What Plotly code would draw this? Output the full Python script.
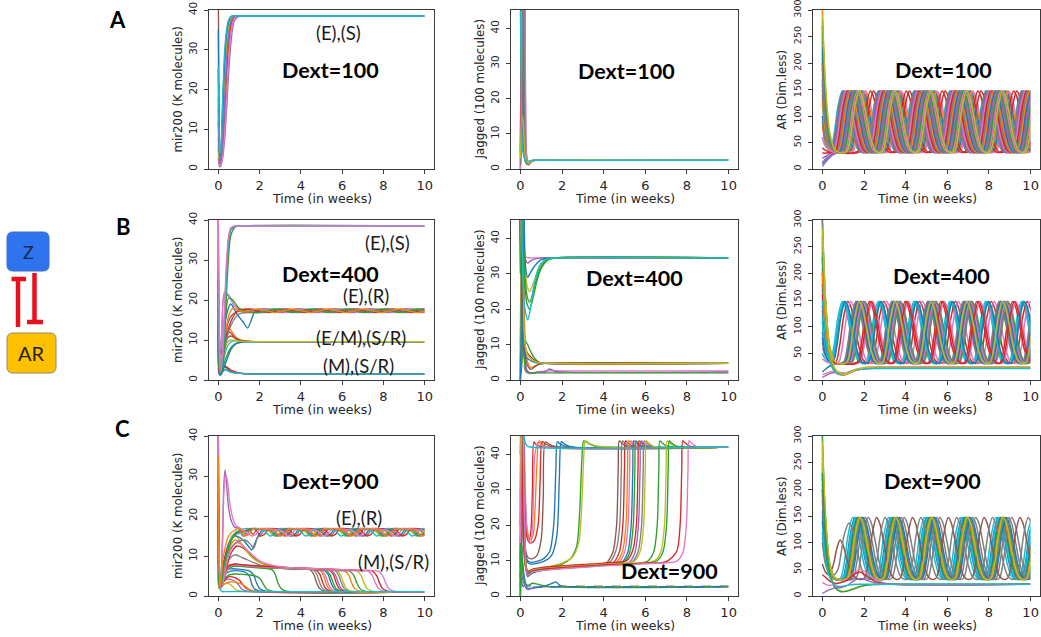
import plotly.graph_objects as go

W, H = 1041, 637
TAB = ['#1f77b4', '#ff7f0e', '#2ca02c', '#d62728', '#9467bd',
       '#8c564b', '#e377c2', '#7f7f7f', '#bcbd22', '#17becf']

# ======================= DATA =======================
X_TICKS = [0, 2, 4, 6, 8, 10]
Y_TICKS_MIR = [0, 10, 20, 30, 40]
Y_TICKS_JAG = [0, 10, 20, 30, 40]
Y_TICKS_AR = [0, 50, 100, 150, 200, 250, 300]
X_TITLE = 'Time (in weeks)'
Y_TITLES = ['mir200 (K molecules)', 'Jagged (100 molecules)', 'AR (Dim.less)']
DEXT = ['Dext=100', 'Dext=400', 'Dext=900']

# ---- A1: mir200, Dext=100 ----
A1_T = [0, 0.04, 0.08, 0.12, 0.2, 0.3, 0.4, 0.5, 0.6, 0.7, 0.8, 1.0, 1.3, 10]
A1_Y = [
    [25, 6, 2, 3, 10, 24, 33, 36.5, 38, 38.4, 38.5, 38.5, 38.5, 38.5],
    [5, 2, 1, 1.2, 4, 12, 22, 30, 35, 37.5, 38.2, 38.5, 38.5, 38.5],
    [18, 6, 3, 4, 14, 27, 34, 37, 38.2, 38.5, 38.5, 38.5, 38.5, 38.5],
    [12, 4, 1, 1.5, 5, 14, 25, 32, 36, 37.8, 38.3, 38.5, 38.5, 38.5],
    [3, 1, 0.5, 0.8, 2.5, 7, 15, 24, 31, 35.5, 37.5, 38.4, 38.5, 38.5],
    [48, 8, 1.5, 2, 8, 20, 31, 36, 38, 38.4, 38.5, 38.5, 38.5, 38.5],
    [2, 1.5, 0.8, 1, 3, 9, 18, 27, 33.5, 36.8, 38, 38.5, 38.5, 38.5],
    [8, 3, 1.5, 2, 7, 17, 28, 34, 37, 38, 38.4, 38.5, 38.5, 38.5],
    [6, 2.5, 2.5, 3.5, 9, 21, 31, 35.5, 37.6, 38.3, 38.5, 38.5, 38.5, 38.5],
    [35, 9, 3, 4, 12, 26, 34, 37, 38.3, 38.5, 38.5, 38.5, 38.5, 38.5],
    [15, 5, 2, 2.5, 6, 16, 27, 33.5, 36.8, 38, 38.4, 38.5, 38.5, 38.5],
    [26, 10, 4, 5, 16, 29, 35, 37.5, 38.3, 38.5, 38.5, 38.5, 38.5, 38.5],
]
A1_C = [0, 1, 2, 3, 4, 5, 6, 7, 8, 0, 4, 9]

# ---- A2: Jagged, Dext=100 ----
A2_T = [0, 0.03, 0.07, 0.1, 0.15, 0.2, 0.25, 0.3, 0.4, 0.5, 0.6, 0.8, 10]
A2_Y = [
    [60, 50, 30, 11, 6, 4, 3, 2, 1.5, 2, 2.4, 2.5, 2.5],
    [0, 20, 60, 60, 40, 8, 3, 1.8, 1.5, 2.2, 2.5, 2.5, 2.5],
    [2, 40, 60, 50, 20, 5, 2, 1.5, 1.3, 2, 2.4, 2.5, 2.5],
    [5, 30, 60, 60, 60, 30, 6, 2, 1.2, 1.8, 2.4, 2.5, 2.5],
    [0, 3, 8, 20, 50, 60, 20, 4, 1.5, 2, 2.4, 2.5, 2.5],
    [60, 60, 40, 15, 5, 3, 2, 1.5, 1.4, 2, 2.4, 2.5, 2.5],
    [0, 10, 50, 60, 60, 50, 15, 3, 1.5, 2, 2.4, 2.5, 2.5],
    [1, 5, 15, 40, 60, 25, 5, 2, 1.5, 2, 2.4, 2.5, 2.5],
    [3, 8, 14, 15, 12, 6, 3, 2, 1.5, 2, 2.4, 2.5, 2.5],
    [45, 30, 12, 6, 4, 3, 2.5, 2.2, 2.2, 2.4, 2.5, 2.5, 2.5],
]
A2_C = [0, 1, 2, 3, 4, 5, 6, 7, 8, 9]

# ---- AR oscillation: one cycle (offset from a peak) ----
AR_CYC_DT = [0, 0.15, 0.35, 0.55, 0.75, 0.95, 1.15, 1.32, 1.52, 1.72]
AR_CYC_V = [147, 137, 100, 60, 37, 31, 34, 62, 118, 147]

# ---- A3: AR, Dext=100 ----
A3_TR_T = [
    [0, 0.12, 0.3], [0, 0.15, 0.35], [0, 0.15, 0.35], [0, 0.15, 0.35, 0.5],
    [0, 0.2, 0.4], [0, 0.15, 0.35, 0.55], [0, 0.15, 0.35, 0.6], [0, 0.2, 0.45, 0.65],
    [0, 0.15, 0.35, 0.6, 0.75], [0, 0.15, 0.35, 0.6, 0.8], [0, 0.15, 0.35, 0.6, 0.85],
    [0, 0.15, 0.35, 0.6, 0.9], [0, 0.15, 0.35, 0.6, 1.0], [0, 0.15, 0.35, 0.6, 1.05],
    [0, 0.2, 0.45, 0.7, 1.1], [0, 0.15, 0.35, 0.6, 1.15], [0, 0.15, 0.35, 0.6, 1.2],
    [0, 0.15, 0.35, 0.6, 1.0, 1.45], [0, 0.15, 0.35, 0.6, 1.0, 1.6],
    [0, 0.12, 0.3], [0, 0.15, 0.35], [0, 0.15, 0.35, 0.45], [0, 0.2, 0.4],
    [0, 0.15, 0.35, 0.5], [0, 0.15, 0.35, 0.55], [0, 0.15, 0.35, 0.6],
    [0, 0.2, 0.45, 0.7], [0, 0.15, 0.35, 0.6, 0.75], [0, 0.15, 0.35, 0.6, 0.8],
    [0, 0.15, 0.35, 0.6, 0.85], [0, 0.15, 0.35, 0.6, 0.95],
    [0, 0.15, 0.35, 0.6, 0.95],
]
A3_TR_V = [
    [60, 45, 36], [140, 70, 38], [220, 95, 42], [300, 150, 60, 36],
    [20, 25, 30], [250, 120, 50, 33], [180, 90, 45, 32], [5, 15, 25, 30],
    [280, 140, 60, 35, 31], [100, 60, 40, 32, 30], [200, 100, 48, 33, 30],
    [160, 85, 45, 32, 30], [120, 70, 40, 32, 30], [240, 115, 52, 33, 30],
    [10, 20, 27, 30, 30], [80, 50, 36, 31, 30], [260, 130, 55, 34, 30],
    [190, 100, 48, 33, 30, 30], [40, 35, 32, 30, 30, 30],
    [90, 55, 37], [170, 80, 40], [270, 130, 55, 40], [30, 30, 31],
    [210, 100, 46, 34], [130, 70, 40, 32], [230, 110, 50, 33],
    [12, 20, 27, 30], [150, 80, 42, 32, 30], [270, 135, 58, 34, 30],
    [60, 45, 35, 31, 30], [200, 100, 48, 33, 30],
    [290, 160, 70, 36, 30],
]
A3_PEAKS = [
    [0.95, 2.67, 4.39, 6.11, 7.83, 9.55], [1.02, 2.74, 4.46, 6.18, 7.90, 9.62],
    [1.10, 2.82, 4.54, 6.26, 7.98, 9.70], [1.17, 2.89, 4.61, 6.33, 8.05, 9.77],
    [1.24, 2.96, 4.68, 6.40, 8.12, 9.84], [1.31, 3.03, 4.75, 6.47, 8.19, 9.91],
    [1.38, 3.10, 4.82, 6.54, 8.26, 9.98], [1.45, 3.17, 4.89, 6.61, 8.33],
    [1.52, 3.24, 4.96, 6.68, 8.40], [1.58, 3.30, 5.02, 6.74, 8.46],
    [1.64, 3.36, 5.08, 6.80, 8.52], [1.70, 3.42, 5.14, 6.86, 8.58],
    [1.82, 3.54, 5.26, 6.98, 8.70], [1.88, 3.60, 5.32, 7.04, 8.76],
    [1.94, 3.66, 5.38, 7.10, 8.82], [2.00, 3.72, 5.44, 7.16, 8.88],
    [2.06, 3.78, 5.50, 7.22, 8.94], [2.30, 4.02, 5.74, 7.46, 9.18],
    [2.45, 4.17, 5.89, 7.61, 9.33],
    [0.98, 2.70, 4.42, 6.14, 7.86, 9.58], [1.06, 2.78, 4.50, 6.22, 7.94, 9.66],
    [1.13, 2.85, 4.57, 6.29, 8.01, 9.73], [1.20, 2.92, 4.64, 6.36, 8.08, 9.80],
    [1.28, 3.00, 4.72, 6.44, 8.16, 9.88], [1.35, 3.07, 4.79, 6.51, 8.23, 9.95],
    [1.42, 3.14, 4.86, 6.58, 8.30], [1.49, 3.21, 4.93, 6.65, 8.37],
    [1.55, 3.27, 4.99, 6.71, 8.43], [1.61, 3.33, 5.05, 6.77, 8.49],
    [1.67, 3.39, 5.11, 6.83, 8.55], [1.79, 3.51, 5.23, 6.95, 8.67],
    [1.76, 3.48, 5.20, 6.92, 8.64],
]
A3_C = [9, 0, 2, 1, 4, 3, 6, 4, 7, 0, 5, 2, 9, 7, 0, 1, 6, 3, 3,
        7, 4, 6, 3, 7, 1, 0, 4, 7, 2, 6, 7, 8]

# ---- B1: mir200, Dext=400 ----
B1_S_T = [0, 0.05, 0.1, 0.2, 0.3, 0.4, 0.5, 0.6, 0.8, 1.0, 10]
B1_S_Y = [
    [25, 6, 1.5, 4, 14, 26, 34, 37.5, 38.4, 38.5, 38.5],
    [15, 4, 1.5, 3, 11, 22, 31, 36, 38.2, 38.5, 38.5],
    [20, 5, 2, 5, 16, 28, 35, 37.6, 38.4, 38.5, 38.5],
    [30, 8, 2, 5, 15, 27, 35, 37.8, 38.5, 38.5, 38.5],
    [40, 10, 2, 6, 18, 30, 36, 38, 38.5, 38.5, 38.5],
]
B1_S_C = [0, 2, 4, 9, 6]

B1_EM_T = [0, 0.05, 0.1, 0.2, 0.3, 0.45, 0.6, 0.8, 1.0, 1.3, 1.8, 10]
B1_EM_Y = [
    [35, 8, 2, 6, 11, 13, 12.5, 11, 10.2, 9.8, 9.6, 9.6],
    [20, 5, 1.5, 5, 9, 12, 11.8, 10.5, 9.9, 9.7, 9.6, 9.6],
    [8, 2, 1.5, 2.5, 4.5, 6.5, 8, 9, 9.4, 9.55, 9.6, 9.6],
    [5, 1.5, 1.2, 2, 3.5, 5.5, 7.5, 8.8, 9.3, 9.5, 9.6, 9.6],
    [15, 4, 2, 5, 8, 10.5, 11, 10.5, 10, 9.7, 9.6, 9.6],
    [10, 3, 1.5, 3, 6, 8.5, 9.5, 9.8, 9.7, 9.6, 9.6, 9.6],
    [12, 3, 2, 4, 7, 9.5, 10, 9.9, 9.7, 9.6, 9.6, 9.6],
]
B1_EM_C = [1, 3, 2, 0, 5, 9, 8]

B1_M_T = [0, 0.04, 0.1, 0.2, 0.3, 0.4, 0.6, 0.9, 1.3, 2.0, 10]
B1_M_Y = [
    [40, 10, 3, 3.4, 3.6, 3.2, 2.3, 1.8, 1.6, 1.5, 1.5],
    [8, 2, 1.5, 2.5, 3.3, 3, 2.2, 1.8, 1.6, 1.5, 1.5],
    [3, 1.5, 1.2, 2, 2.6, 2.6, 2, 1.7, 1.55, 1.5, 1.5],
    [14, 3, 1.5, 2.8, 3.4, 3.3, 2.5, 1.9, 1.6, 1.5, 1.5],
    [25, 6, 2, 2.2, 2.5, 2.4, 1.9, 1.7, 1.55, 1.5, 1.5],
]
B1_M_C = [7, 2, 4, 3, 9]

# (E),(R) small oscillation cycle, Dext=400
ER4_DT = [0, 0.43, 0.86, 1.29, 1.72]
ER4_V = [17.75, 17.3, 16.85, 17.3, 17.75]
B1_ER_TR_T = [
    [0, 0.05, 0.15, 0.35, 0.6, 0.9, 1.2, 1.42, 1.6, 1.8],
    [0, 0.05, 0.15, 0.3, 0.5, 0.8, 1.1],
    [0, 0.05, 0.2, 0.4, 0.6, 0.85],
    [0, 0.05, 0.15, 0.3, 0.5, 0.75, 1.0],
    [0, 0.05, 0.2, 0.4, 0.6, 0.8],
    [0, 0.05, 0.15, 0.35, 0.6, 1.0],
    [0, 0.05, 0.12, 0.3, 0.5, 0.7, 1.0, 1.3],
    [0, 0.05, 0.12, 0.3, 0.5, 0.7, 0.9, 1.15],
]
B1_ER_TR_V = [
    [28, 6, 4, 15, 19, 16.5, 14.5, 13, 15, 17.4],
    [40, 10, 6, 21.5, 21, 18.5, 17.4],
    [12, 2, 4, 13, 15.8, 16.9],
    [45, 12, 8, 22, 21.3, 18.8, 17.7],
    [18, 3, 5, 11, 14.5, 16.5],
    [22, 5, 3, 9, 13.5, 16.5],
    [10, 3, 2, 12, 20.5, 20, 18, 17.3],
    [35, 8, 3, 10, 16, 17.9, 17.6, 17.1],
]
B1_ER_PEAKS = [
    [2.3, 4.02, 5.74, 7.46, 9.18],
    [2.1, 3.82, 5.54, 7.26, 8.98],
    [1.6, 3.32, 5.04, 6.76, 8.48],
    [2.5, 4.22, 5.94, 7.66, 9.38],
    [1.35, 3.07, 4.79, 6.51, 8.23, 9.95],
    [2.95, 4.67, 6.39, 8.11, 9.83],
    [2.76, 4.48, 6.20, 7.92, 9.64],
    [1.9, 3.62, 5.34, 7.06, 8.78],
]
B1_ER_C = [0, 4, 5, 6, 3, 7, 2, 1]

# ---- B2: Jagged, Dext=400 ----
B2_A_T = [0, 0.03, 0.08, 0.12, 0.18, 0.25, 0.35, 0.45, 0.6, 0.8, 1.0, 1.3, 1.7, 10]
B2_A_Y = [
    [0, 20, 60, 60, 40, 34.8, 34.6, 34.5, 34.5, 34.5, 34.5, 34.5, 34.5, 34.5],
    [5, 40, 60, 50, 36, 34, 33, 33.5, 34, 34.3, 34.5, 34.5, 34.5, 34.5],
    [60, 60, 50, 40, 30, 24, 21, 20, 23, 28, 31.5, 33.8, 34.5, 34.5],
    [2, 30, 60, 55, 38, 30, 26, 25, 27, 30, 32.5, 34, 34.5, 34.5],
    [0, 10, 45, 60, 45, 32, 29, 30, 31.5, 33, 34, 34.4, 34.5, 34.5],
    [30, 60, 60, 45, 33, 27, 23, 22, 24.5, 29, 32, 34, 34.5, 34.5],
    [60, 55, 40, 30, 22, 19, 17, 19, 25, 30.5, 33, 34.2, 34.5, 34.5],
]
B2_A_C = [6, 4, 2, 8, 0, 2, 9]

B2_B_T = [0, 0.03, 0.08, 0.12, 0.18, 0.25, 0.35, 0.5, 0.7, 0.9, 1.2, 10]
B2_B_Y = [
    [60, 60, 40, 20, 12, 11, 10, 8, 6, 5, 4.7, 4.7],
    [0, 15, 50, 40, 15, 9, 7.5, 6.5, 5.5, 5, 4.7, 4.7],
    [2, 30, 60, 45, 20, 8, 5, 3.5, 4, 4.5, 4.7, 4.7],
    [0, 5, 20, 30, 12, 6, 4, 3, 3.8, 4.4, 4.7, 4.7],
    [45, 30, 15, 10, 8, 7, 6, 5.5, 5, 4.8, 4.7, 4.7],
    [10, 40, 60, 40, 14, 9, 7, 6, 5.2, 4.9, 4.7, 4.7],
]
B2_B_C = [2, 3, 1, 5, 0, 8]

B2_C_T = [0, 0.03, 0.08, 0.12, 0.18, 0.25, 0.35, 0.5, 0.8, 1.2, 1.4, 1.6, 2.0, 10]
B2_C_Y = [
    [0, 20, 60, 60, 30, 5, 2, 1.8, 2.3, 2.5, 2.6, 2.6, 2.6, 2.6],
    [3, 10, 30, 20, 8, 4, 2.5, 2, 2.2, 2.4, 3.1, 2.6, 2.3, 2.3],
    [1, 2, 5, 10, 6, 3, 2.2, 2, 2, 2, 2, 2, 2, 2],
    [60, 50, 20, 8, 4, 2.5, 2, 2, 2.1, 2.1, 2.1, 2.1, 2.1, 2.1],
]
B2_C_C = [6, 4, 2, 7]
B2_C_DASH = ['solid', 'solid', 'solid', 'dash']

# ---- B3: AR, Dext=400 ----
B3_TR_T = [
    [0, 0.12, 0.3], [0, 0.15, 0.32], [0, 0.15, 0.35], [0, 0.15, 0.35, 0.45],
    [0, 0.15, 0.35, 0.55], [0, 0.15, 0.35, 0.6, 0.8], [0, 0.15, 0.35, 0.6, 0.85],
    [0, 0.15, 0.35, 0.6, 0.9], [0, 0.2, 0.45, 0.7, 0.95], [0, 0.15, 0.35, 0.6, 1.0],
    [0, 0.15, 0.35, 0.6, 1.05], [0, 0.15, 0.35, 0.6, 1.1],
    [0, 0.15, 0.35, 0.6, 1.15], [0, 0.15, 0.35, 0.6, 1.0, 1.4],
    [0, 0.15, 0.35, 0.6, 1.0, 1.6],
    [0, 0.15, 0.35, 0.6, 0.82], [0, 0.15, 0.35, 0.6, 0.88], [0, 0.15, 0.35, 0.6, 0.92],
    [0, 0.15, 0.35, 0.6, 0.98], [0, 0.15, 0.35, 0.6, 1.03], [0, 0.15, 0.35, 0.6, 1.08],
    [0, 0.15, 0.35, 0.6, 1.12], [0, 0.12, 0.3], [0, 0.12, 0.3],
    [0, 0.15, 0.35, 0.6, 1.0, 1.5],
    [0, 0.15, 0.35, 0.6, 0.95],
]
B3_TR_V = [
    [50, 40, 34], [150, 70, 36], [230, 100, 42], [270, 130, 55, 38],
    [190, 95, 45, 33], [300, 150, 60, 34, 31], [110, 62, 40, 32, 30],
    [210, 105, 50, 33, 30], [15, 22, 28, 30, 30], [250, 120, 52, 33, 30],
    [170, 88, 45, 32, 30], [90, 55, 38, 31, 30],
    [130, 72, 42, 32, 30], [200, 100, 48, 33, 30, 30], [60, 45, 35, 31, 30, 30],
    [260, 130, 56, 34, 30], [140, 75, 42, 32, 30], [70, 48, 36, 31, 30],
    [230, 115, 52, 33, 30], [180, 92, 46, 32, 30], [40, 35, 32, 30, 30],
    [300, 150, 62, 34, 30], [120, 60, 38], [80, 50, 36],
    [160, 85, 45, 32, 30, 30],
    [285, 150, 65, 35, 30],
]
B3_PEAKS = [
    [0.95, 2.67, 4.39, 6.11, 7.83, 9.55], [1.00, 2.72, 4.44, 6.16, 7.88, 9.60],
    [1.06, 2.78, 4.50, 6.22, 7.94, 9.66], [1.22, 2.94, 4.66, 6.38, 8.10, 9.82],
    [1.36, 3.08, 4.80, 6.52, 8.24, 9.96], [1.60, 3.32, 5.04, 6.76, 8.48],
    [1.66, 3.38, 5.10, 6.82, 8.54], [1.72, 3.44, 5.16, 6.88, 8.60],
    [1.78, 3.50, 5.22, 6.94, 8.66], [1.84, 3.56, 5.28, 7.00, 8.72],
    [1.90, 3.62, 5.34, 7.06, 8.78], [1.96, 3.68, 5.40, 7.12, 8.84],
    [2.02, 3.74, 5.46, 7.18, 8.90],
    [2.25, 3.97, 5.69, 7.41, 9.13], [2.40, 4.12, 5.84, 7.56, 9.28],
    [1.63, 3.35, 5.07, 6.79, 8.51], [1.69, 3.41, 5.13, 6.85, 8.57],
    [1.74, 3.46, 5.18, 6.90, 8.62], [1.81, 3.53, 5.25, 6.97, 8.69],
    [1.87, 3.59, 5.31, 7.03, 8.75], [1.93, 3.65, 5.37, 7.09, 8.81],
    [1.99, 3.71, 5.43, 7.15, 8.87], [1.03, 2.75, 4.47, 6.19, 7.91, 9.63],
    [1.09, 2.81, 4.53, 6.25, 7.97, 9.69], [2.33, 4.05, 5.77, 7.49, 9.21],
    [1.76, 3.48, 5.20, 6.92, 8.64],
]
B3_C = [9, 9, 0, 3, 6, 7, 0, 7, 0, 4, 7, 0, 2, 3, 6,
        7, 0, 4, 7, 0, 6, 7, 9, 0, 3, 8]

B3_F_T = [0, 0.15, 0.35, 0.6, 0.9, 1.1, 1.3, 1.6, 2.0, 2.5, 10]
B3_F_Y = [
    [240, 120, 48, 18, 10, 10, 13, 18, 21, 22, 22],
    [200, 100, 40, 15, 9, 9.5, 13, 18, 21, 22.5, 23],
    [5, 8, 12, 14, 12, 12, 15, 19, 21, 21.8, 22],
    [10, 12, 15, 16, 14, 13, 16, 20, 22, 23, 23.5],
    [150, 80, 35, 15, 10, 11, 15, 19, 21, 21.5, 21.5],
    [280, 140, 55, 22, 12, 11, 14, 20, 23.5, 25, 25],
]
B3_F_C = [2, 1, 4, 6, 9, 8]

# ---- C1: mir200, Dext=900 ----
ER9_DT = [0, 0.6, 1.0, 1.3, 1.5, 1.72]
ER9_V = [16.8, 16.7, 16.4, 15.0, 15.4, 16.8]
C1_ER_TR_T = [
    [0, 0.04, 0.1, 0.25, 0.5, 0.8, 1.2, 1.45, 1.62, 1.85],
    [0, 0.04, 0.1, 0.25, 0.5, 0.9, 1.3, 1.55, 1.72, 1.9],
    [0, 0.04, 0.1, 0.3, 0.6, 0.9, 1.2, 1.5],
    [0, 0.04, 0.1, 0.3, 0.6, 0.9, 1.1],
    [0, 0.04, 0.1, 0.3, 0.6, 1.0, 1.4, 1.8],
    [0, 0.04, 0.1, 0.3, 0.6, 0.9],
    [0, 0.04, 0.1, 0.25, 0.5, 0.8, 1.1],
    [0, 0.04, 0.1, 0.2, 0.27, 0.33, 0.4, 0.5, 0.65, 0.8, 1.0],
    [0, 0.04, 0.1, 0.2, 0.27, 0.35, 0.45, 0.55, 0.7, 0.85, 1.05],
    [0, 0.04, 0.1, 0.25, 0.5, 0.8, 1.1],
]
C1_ER_TR_V = [
    [25, 6, 2, 8, 13, 15, 14, 12.5, 11.5, 14.2],
    [15, 4, 2, 6, 11, 13.5, 14, 13, 12, 14.5],
    [20, 5, 2, 9, 14, 15.8, 16.2, 16.5],
    [8, 2, 2, 8, 13.5, 16, 16.5],
    [30, 7, 2, 9, 14, 16, 16.4, 16.6],
    [28, 6, 2, 8, 14, 16.2],
    [10, 3, 2, 7, 12, 15.5, 16.3],
    [45, 10, 2, 14, 28, 31.5, 28, 22, 18.5, 17.2, 16.9],
    [40, 8, 2, 12, 26, 30.5, 28.5, 23.5, 19.5, 17.6, 17],
    [35, 8, 3, 10, 15, 16.5, 16.8],
]
C1_ER_PEAKS = [
    [2.2, 3.92, 5.64, 7.36, 9.08],
    [2.3, 4.02, 5.74, 7.46, 9.18],
    [1.9, 3.62, 5.34, 7.06, 8.78],
    [1.4, 3.12, 4.84, 6.56, 8.28],
    [2.45, 4.17, 5.89, 7.61, 9.33],
    [1.2, 2.92, 4.64, 6.36, 8.08, 9.80],
    [1.5, 3.22, 4.94, 6.66, 8.38],
    [1.6, 3.32, 5.04, 6.76, 8.48],
    [2.05, 3.77, 5.49, 7.21, 8.93],
    [1.7, 3.42, 5.14, 6.86, 8.58],
]
C1_ER_C = [0, 7, 5, 8, 3, 9, 2, 4, 6, 1]

# (M),(S/R) lines: plateau then drop to the low state (explicit points)
C1_M_T = [
    [0, 0.04, 0.1, 0.2, 0.35, 0.6, 1.0, 1.3, 1.5, 1.62, 1.75, 2.0, 10],
    [0, 0.04, 0.1, 0.2, 0.35, 0.6, 1.0, 1.5, 1.72, 1.85, 2.0, 2.3, 10],
    [0, 0.04, 0.1, 0.25, 0.5, 0.8, 1.2, 1.8, 2.05, 2.2, 2.35, 2.6, 10],
    [0, 0.04, 0.1, 0.25, 0.5, 0.9, 1.5, 2.2, 2.6, 2.75, 2.9, 3.05, 3.3, 10],
    [0, 0.04, 0.1, 0.25, 0.45, 0.65, 0.85, 1.1, 10],
    [0, 0.04, 0.1, 0.25, 0.45, 0.7, 0.95, 1.15, 1.4, 10],
    [0, 0.04, 0.1, 0.3, 0.5, 0.8, 1.05, 1.25, 1.5, 1.8, 10],
    [0, 0.04, 0.1, 0.3, 0.6, 0.9, 1.2, 1.45, 1.7, 2.0, 10],
    [0, 0.04, 0.1, 0.25, 0.5, 0.8, 1.2, 2.0, 3.0, 4.0, 4.4, 4.62, 4.75, 4.9, 5.15, 10],
    [0, 0.04, 0.1, 0.25, 0.5, 0.8, 1.2, 2.0, 3.0, 4.0, 4.55, 4.77, 4.9, 5.05, 5.3, 10],
    [0, 0.04, 0.1, 0.25, 0.5, 0.8, 1.2, 2.0, 3.0, 4.0, 4.7, 4.92, 5.05, 5.2, 5.45, 10],
    [0, 0.04, 0.1, 0.2, 0.35, 0.5, 0.8, 1.0, 1.3, 1.7, 2.2, 3.0, 4.0, 4.85, 5.07, 5.2, 5.35, 5.6, 10],
    [0, 0.04, 0.1, 0.25, 0.5, 0.8, 1.2, 2.0, 3.0, 4.0, 4.95, 5.17, 5.3, 5.45, 5.7, 10],
    [0, 0.04, 0.1, 0.25, 0.5, 0.8, 1.2, 2.0, 3.0, 4.0, 5.1, 5.32, 5.45, 5.6, 5.85, 10],
    [0, 0.04, 0.1, 0.25, 0.5, 0.8, 1.2, 2.0, 3.0, 4.0, 5.2, 5.42, 5.55, 5.7, 5.95, 10],
    [0, 0.04, 0.1, 0.2, 0.4, 0.6, 0.9, 1.2, 1.6, 2.1, 3.0, 4.0, 5.0, 5.35, 5.57, 5.7, 5.85, 6.1, 10],
    [0, 0.04, 0.1, 0.25, 0.5, 0.8, 1.2, 2.0, 3.0, 4.0, 5.0, 5.45, 5.67, 5.8, 5.95, 6.2, 10],
    [0, 0.04, 0.1, 0.25, 0.5, 0.8, 1.2, 2.0, 3.0, 4.0, 5.0, 5.6, 5.82, 5.95, 6.1, 6.35, 10],
    [0, 0.04, 0.1, 0.2, 0.35, 0.5, 0.7, 0.9, 1.2, 1.6, 2.0, 3.0, 4.0, 5.0, 5.7, 5.92, 6.05, 6.2, 6.45, 10],
    [0, 0.04, 0.1, 0.25, 0.5, 0.8, 1.2, 2.0, 3.0, 4.0, 5.0, 6.0, 6.1, 6.32, 6.45, 6.6, 6.85, 10],
    [0, 0.04, 0.1, 0.25, 0.5, 0.8, 1.2, 2.0, 3.0, 4.0, 5.0, 6.0, 6.35, 6.57, 6.7, 6.85, 7.1, 10],
    [0, 0.04, 0.1, 0.25, 0.5, 0.8, 1.2, 2.0, 3.0, 4.0, 5.0, 6.0, 6.7, 6.92, 7.05, 7.2, 7.45, 10],
    [0, 0.04, 0.1, 0.25, 0.5, 0.8, 1.2, 2.0, 3.0, 4.0, 5.0, 6.0, 7.0, 7.25, 7.47, 7.6, 7.75, 8.0, 10],
    [0, 0.04, 0.1, 0.25, 0.5, 0.8, 1.2, 2.0, 3.0, 4.0, 5.0, 6.0, 7.0, 7.45, 7.67, 7.8, 7.95, 8.2, 10],
    [0, 0.04, 0.1, 0.2, 0.4, 0.6, 0.9, 1.1, 1.5, 2.0, 3.0, 4.0, 5.0, 6.0, 7.0, 7.75, 7.97, 8.1, 8.25, 8.5, 10],
    [0, 0.04, 0.1, 0.2, 0.4, 10],
]
C1_M_V = [
    [40, 10, 2, 4.5, 5.5, 6.2, 6.3, 6.0, 5.0, 3.0, 1.8, 1.2, 1.1],
    [22, 6, 2, 5, 6.5, 6.8, 6.7, 6.3, 5.2, 3.3, 1.9, 1.2, 1.1],
    [12, 3, 2, 4, 5.2, 5.5, 5.4, 5.0, 4.2, 2.8, 1.7, 1.2, 1.1],
    [30, 8, 2, 5, 7, 7.5, 7.2, 6.9, 6.6, 5.5, 3.2, 1.8, 1.2, 1.1],
    [6, 2, 1.8, 2.8, 3.2, 2.6, 1.6, 1.2, 1.1],
    [15, 4, 2, 3.5, 4.2, 4.0, 3.0, 1.7, 1.2, 1.1],
    [9, 2, 2, 4, 4.8, 4.6, 3.8, 2.4, 1.5, 1.2, 1.1],
    [20, 5, 2, 3, 3.5, 3.4, 2.8, 1.8, 1.3, 1.15, 1.1],
    [45, 11, 2, 5, 7.5, 7.9, 7.7, 7.4, 7.0, 6.8, 6.7, 5.5, 3.5, 1.9, 1.2, 1.1],
    [35, 9, 2, 5, 9, 10.3, 9.5, 7.8, 7.1, 6.8, 6.7, 5.5, 3.5, 1.9, 1.2, 1.1],
    [28, 7, 2, 5, 7.4, 7.8, 7.6, 7.3, 7.0, 6.8, 6.6, 5.4, 3.5, 1.9, 1.2, 1.1],
    [25, 6, 2, 3.5, 8, 11.5, 14, 13.6, 11.8, 9.5, 8.0, 7.3, 6.9, 6.65, 5.5, 3.5, 1.9, 1.2, 1.1],
    [40, 10, 2, 4, 7.2, 7.7, 7.5, 7.2, 6.9, 6.7, 6.6, 5.4, 3.5, 1.9, 1.2, 1.1],
    [22, 6, 2, 5, 7.6, 7.9, 7.7, 7.3, 7.0, 6.8, 6.55, 5.4, 3.5, 1.9, 1.2, 1.1],
    [15, 4, 2, 4.5, 7, 7.6, 7.5, 7.2, 6.9, 6.7, 6.5, 5.3, 3.5, 1.9, 1.2, 1.1],
    [18, 5, 2, 3, 7, 10.5, 12.5, 12, 10, 8.3, 7.2, 6.9, 6.6, 6.5, 5.4, 3.5, 1.9, 1.2, 1.1],
    [10, 3, 2, 4, 7.1, 7.7, 7.6, 7.3, 7.0, 6.8, 6.6, 6.5, 5.3, 3.5, 1.9, 1.2, 1.1],
    [30, 8, 2, 5, 7.5, 7.9, 7.7, 7.4, 7.1, 6.9, 6.7, 6.5, 5.3, 3.5, 1.9, 1.2, 1.1],
    [30, 8, 2, 4, 9, 13, 15.3, 14.8, 12.5, 9.8, 8.4, 7.3, 6.9, 6.6, 6.45, 5.3, 3.5, 1.9, 1.2, 1.1],
    [20, 5, 2, 4.5, 7.3, 7.8, 7.6, 7.3, 7.0, 6.8, 6.6, 6.4, 6.35, 5.2, 3.4, 1.9, 1.2, 1.1],
    [12, 3, 2, 4, 7, 7.6, 7.5, 7.2, 6.9, 6.7, 6.5, 6.3, 6.25, 5.1, 3.4, 1.9, 1.2, 1.1],
    [18, 5, 2, 4.5, 7.4, 7.9, 7.7, 7.4, 7.1, 6.9, 6.7, 6.5, 6.3, 5.1, 3.4, 1.9, 1.2, 1.1],
    [33, 8, 2, 4, 7.2, 7.7, 7.6, 7.3, 7.0, 6.8, 6.6, 6.4, 6.25, 6.2, 5.0, 3.4, 1.9, 1.2, 1.1],
    [26, 6, 2, 5, 7.5, 8, 7.8, 7.5, 7.2, 7.0, 6.8, 6.6, 6.4, 6.3, 5.1, 3.4, 1.9, 1.2, 1.1],
    [40, 10, 2, 3, 8, 11.5, 13.3, 13, 11, 8.8, 7.3, 7.0, 6.8, 6.6, 6.4, 6.2, 5.0, 3.4, 1.9, 1.2, 1.1],
    [20, 5, 1.5, 1.1, 1.1, 1.1],
]
C1_M_C = [0, 0, 2, 2, 8, 4, 3, 1, 5, 7, 3, 1, 6, 0, 2, 3, 4, 7, 8, 1, 2, 8, 6, 3, 6, 9]

# ---- C2: Jagged, Dext=900 ----
C2_T = [
    # low-state lines
    [0, 0.04, 0.1, 0.2, 0.3, 0.5, 0.8, 1.2, 10],
    [0, 0.04, 0.1, 0.2, 0.35, 0.6, 1.0, 1.5, 1.7, 1.9, 2.2, 10],
    [0, 0.04, 0.1, 0.2, 0.35, 0.5, 0.8, 1.2, 10],
    [0, 0.04, 0.1, 0.2, 0.35, 0.6, 0.9, 1.3, 10],
    [0, 0.04, 0.1, 0.2, 0.35, 0.6, 1.0, 10],
    # early switching lines
    [0, 0.05, 0.12, 0.2, 0.3, 0.4, 0.5, 0.58, 0.65, 0.75, 1.0, 10],
    [0, 0.05, 0.12, 0.2, 0.3, 0.45, 0.6, 0.7, 0.8, 0.9, 1.2, 10],
    [0, 0.05, 0.12, 0.2, 0.3, 0.45, 0.65, 0.85, 0.95, 1.05, 1.2, 1.5, 10],
    [0, 0.05, 0.1, 0.2, 0.35, 0.55, 0.8, 1.0, 1.1, 1.2, 1.4, 1.7, 10],
    [0, 0.04, 0.1, 0.2, 0.35, 0.5, 0.8, 1.1, 1.4, 1.6, 1.7, 1.78, 1.9, 2.2, 10],
    [0, 0.04, 0.1, 0.2, 0.35, 0.5, 0.8, 1.2, 1.5, 1.75, 1.87, 1.97, 2.1, 2.4, 10],
    [0, 0.05, 0.12, 0.25, 0.4, 0.6, 1.0, 1.5, 2.0, 2.4, 2.7, 2.85, 2.95, 3.05, 3.3, 3.6, 10],
    [0, 0.05, 0.12, 0.25, 0.4, 0.6, 1.0, 1.5, 2.0, 2.5, 2.8, 2.95, 3.05, 3.12, 3.35, 3.7, 10],
    [0, 0.05, 0.12, 0.2, 0.3, 0.4, 0.5, 0.6, 0.7, 0.85, 1.1, 10],
    # plateau then late switch
    [0, 0.04, 0.1, 0.2, 0.35, 0.6, 1.0, 2.0, 3.0, 4.0, 4.15, 4.45, 4.62, 4.7, 4.75, 4.87, 5.1, 10],
    [0, 0.04, 0.1, 0.2, 0.35, 0.6, 1.0, 2.0, 3.0, 4.0, 4.3, 4.6, 4.77, 4.85, 4.9, 5.02, 5.25, 10],
    [0, 0.04, 0.1, 0.2, 0.35, 0.6, 1.0, 2.0, 3.0, 4.0, 4.45, 4.75, 4.92, 5.0, 5.05, 5.17, 5.4, 10],
    [0, 0.04, 0.1, 0.2, 0.35, 0.6, 1.0, 2.0, 3.0, 4.0, 4.6, 4.9, 5.07, 5.15, 5.2, 5.32, 5.55, 10],
    [0, 0.04, 0.1, 0.2, 0.35, 0.6, 1.0, 2.0, 3.0, 4.0, 4.7, 5.0, 5.17, 5.25, 5.3, 5.42, 5.65, 10],
    [0, 0.04, 0.1, 0.2, 0.35, 0.6, 1.0, 2.0, 3.0, 4.0, 4.85, 5.15, 5.32, 5.4, 5.45, 5.57, 5.8, 10],
    [0, 0.04, 0.1, 0.2, 0.35, 0.6, 1.0, 2.0, 3.0, 4.0, 4.95, 5.25, 5.42, 5.5, 5.55, 5.67, 5.9, 10],
    [0, 0.04, 0.1, 0.2, 0.35, 0.6, 1.0, 2.0, 3.0, 4.0, 5.1, 5.4, 5.57, 5.65, 5.7, 5.82, 6.05, 10],
    [0, 0.04, 0.1, 0.2, 0.35, 0.6, 1.0, 2.0, 3.0, 4.0, 5.2, 5.5, 5.67, 5.75, 5.8, 5.92, 6.15, 10],
    [0, 0.04, 0.1, 0.2, 0.35, 0.6, 1.0, 2.0, 3.0, 4.0, 5.35, 5.65, 5.82, 5.9, 5.95, 6.07, 6.3, 10],
    [0, 0.04, 0.1, 0.2, 0.35, 0.6, 1.0, 2.0, 3.0, 4.0, 5.45, 5.75, 5.92, 6.0, 6.05, 6.17, 6.4, 10],
    [0, 0.04, 0.1, 0.2, 0.35, 0.6, 1.0, 2.0, 3.0, 4.0, 5.0, 6.1, 6.4, 6.57, 6.65, 6.7, 6.82, 7.05, 10],
    [0, 0.04, 0.1, 0.2, 0.35, 0.6, 1.0, 2.0, 3.0, 4.0, 5.0, 6.0, 6.45, 6.75, 6.92, 7.0, 7.05, 7.17, 7.4, 10],
    [0, 0.04, 0.1, 0.2, 0.35, 0.6, 1.0, 2.0, 3.0, 4.0, 5.0, 6.0, 6.55, 6.85, 7.02, 7.1, 7.15, 7.27, 7.5, 10],
    [0, 0.04, 0.1, 0.2, 0.35, 0.6, 1.0, 2.0, 3.0, 4.0, 5.0, 6.0, 7.0, 7.5, 7.67, 7.75, 7.8, 7.92, 8.15, 10],
    [0, 0.04, 0.1, 0.2, 0.35, 0.6, 1.0, 2.0, 3.0, 4.0, 5.0, 6.0, 7.0, 7.5, 7.8, 7.97, 8.05, 8.1, 8.22, 8.45, 10],
    # final high state
    [0, 0.04, 0.1, 0.2, 0.3, 0.45, 10],
]
C2_V = [
    [60, 30, 10, 4, 3, 2.8, 2.8, 2.8, 2.8],
    [2, 15, 10, 5, 2.2, 2.3, 2.5, 3.5, 4, 3, 2.6, 2.6],
    [0, 8, 5, 3, 1.8, 2, 2.5, 2.6, 2.6],
    [30, 20, 8, 4, 3, 3.6, 3.2, 2.7, 2.7],
    [10, 5, 3, 2.5, 2.4, 2.5, 2.6, 2.6],
    [60, 60, 45, 25, 17, 15.5, 18, 30, 43.5, 42.8, 42.2, 42.1],
    [3, 40, 60, 35, 20, 16, 17, 24, 38, 43.8, 42.3, 42.1],
    [20, 60, 50, 28, 18, 15, 15.5, 20, 33, 43.6, 43, 42.2, 42.1],
    [50, 60, 30, 15, 11, 10.5, 11.5, 16, 28, 43.5, 42.8, 42.2, 42.1],
    [60, 40, 20, 12, 10, 9.5, 9.8, 10.5, 12.5, 20, 35, 43.6, 43, 42.2, 42.1],
    [10, 50, 30, 14, 9.5, 9, 9.2, 10, 11.5, 17, 33, 43.6, 43, 42.2, 42.1],
    [5, 30, 20, 8, 6, 6.5, 7.5, 8.2, 9, 10.5, 14, 24, 38, 43.8, 43, 42.3, 42.1],
    [40, 55, 25, 9, 6.5, 7, 7.8, 8.5, 9.3, 11, 15, 26, 40, 43.8, 43, 42.3, 42.1],
    [0, 25, 60, 40, 20, 16, 15, 22, 40, 43.5, 42.3, 42.1],
    [60, 60, 40, 12, 6.5, 7.3, 7.8, 8.3, 8.7, 9.1, 9.4, 12.5, 20, 36, 43.8, 43.2, 42.3, 42.1],
    [0, 30, 60, 30, 7, 7.5, 7.9, 8.4, 8.8, 9.2, 9.6, 13, 20, 36, 43.8, 43.2, 42.3, 42.1],
    [5, 50, 60, 20, 6, 7, 7.6, 8.1, 8.5, 8.9, 9.4, 12.4, 20, 36, 43.8, 43.2, 42.3, 42.1],
    [60, 45, 25, 10, 6.8, 7.2, 7.6, 8.1, 8.5, 8.9, 9.5, 12.5, 20, 36, 43.8, 43.2, 42.3, 42.1],
    [20, 60, 50, 18, 6, 6.8, 7.3, 7.9, 8.4, 8.8, 9.4, 12.3, 20, 36, 43.8, 43.2, 42.3, 42.1],
    [2, 20, 45, 15, 5.5, 6.6, 7.2, 7.8, 8.3, 8.7, 9.4, 12.2, 20, 36, 43.8, 43.2, 42.3, 42.1],
    [40, 55, 30, 12, 6.2, 7, 7.5, 8.0, 8.4, 8.8, 9.5, 12.3, 20, 36, 43.8, 43.2, 42.3, 42.1],
    [10, 40, 60, 25, 7, 7.6, 8, 8.5, 8.9, 9.3, 10.0, 12.9, 20, 36, 43.8, 43.2, 42.3, 42.1],
    [0, 10, 30, 20, 6, 7, 7.4, 7.9, 8.3, 8.7, 9.4, 12.3, 20, 36, 43.8, 43.2, 42.3, 42.1],
    [50, 60, 35, 14, 6.5, 7.2, 7.6, 8.0, 8.4, 8.8, 9.6, 12.5, 20, 36, 43.8, 43.2, 42.3, 42.1],
    [30, 60, 55, 20, 6.6, 7.3, 7.7, 8.2, 8.6, 9.0, 9.8, 12.6, 20, 36, 43.8, 43.2, 42.3, 42.1],
    [8, 35, 55, 18, 6, 6.8, 7.3, 7.8, 8.2, 8.6, 9.0, 9.8, 12.4, 20, 36, 43.8, 43.2, 42.3, 42.1],
    [25, 50, 40, 15, 6.3, 7, 7.5, 8, 8.4, 8.8, 9.1, 9.4, 10, 12.6, 20, 36, 43.8, 43.2, 42.3, 42.1],
    [0, 25, 50, 20, 6.5, 7.1, 7.5, 7.9, 8.3, 8.7, 9.0, 9.3, 9.9, 12.5, 20, 36, 43.8, 43.2, 42.3, 42.1],
    [45, 60, 30, 12, 6.2, 7, 7.5, 8, 8.4, 8.8, 9.0, 9.3, 9.7, 12.5, 20, 36, 43.8, 43.2, 42.3, 42.1],
    [15, 40, 60, 22, 6, 6.8, 7.2, 7.7, 8.1, 8.5, 8.8, 9.1, 9.4, 9.8, 12.2, 20, 36, 43.8, 43.2, 42.3, 42.1],
    [60, 55, 48, 44, 42.5, 42.1, 42.1],
]
C2_C = [7, 0, 4, 2, 0,
        3, 1, 3, 5, 0, 0, 2, 8, 6,
        5, 7, 3, 1, 6, 0, 2, 3, 4, 7, 8, 2, 8, 2, 3, 6,
        9]
C2_DASH = ['dash', 'solid', 'solid', 'solid', 'dash'] + ['solid'] * 26

# ---- C3: AR, Dext=900 ----
C3_TR_T = [
    [0, 0.15, 0.35, 0.6],
    [0, 0.15, 0.35, 0.6, 0.75],
    [0, 0.15, 0.35, 0.6, 0.78],
    [0, 0.15, 0.35, 0.6, 0.85],
    [0, 0.15, 0.35, 0.6, 0.88],
    [0, 0.15, 0.35, 0.6, 0.9],
    [0, 0.15, 0.35, 0.6, 0.92],
    [0, 0.15, 0.35, 0.6, 0.94],
    [0, 0.15, 0.35, 0.6, 0.95],
    [0, 0.15, 0.35, 0.6, 0.99],
    [0, 0.15, 0.35, 0.6, 1.0],
    [0, 0.15, 0.35, 0.6, 1.02],
    [0, 0.15, 0.35, 0.6, 1.04],
    [0, 0.15, 0.35, 0.6, 1.05],
    [0, 0.15, 0.35, 0.6, 1.1],
    [0, 0.15, 0.35, 0.6, 1.2],
    [0, 0.15, 0.35, 0.6, 1.3],
    [0, 0.15, 0.3, 0.5, 0.7, 0.85, 1.0, 1.2, 1.5, 1.8],
    [0, 0.15, 0.35, 0.55, 0.75, 0.9, 1.05, 1.28, 1.45, 1.65, 1.85, 2.05, 2.25],
    [0, 0.15, 0.35, 0.6, 0.97],
]
C3_TR_V = [
    [120, 65, 40, 32],
    [200, 100, 48, 33, 30],
    [190, 95, 46, 33, 30],
    [150, 80, 42, 32, 30],
    [250, 125, 54, 33, 30],
    [300, 150, 62, 34, 30],
    [200, 100, 48, 33, 30],
    [280, 140, 60, 34, 30],
    [260, 130, 55, 33, 30],
    [160, 85, 44, 32, 30],
    [220, 110, 50, 32, 30],
    [110, 62, 40, 31, 30],
    [230, 115, 50, 33, 30],
    [180, 90, 45, 32, 30],
    [140, 75, 42, 32, 30],
    [240, 120, 52, 33, 30],
    [100, 60, 40, 32, 30],
    [60, 45, 40, 55, 90, 105, 95, 65, 38, 31],
    [210, 110, 55, 40, 50, 80, 115, 137, 125, 90, 55, 36, 31],
    [290, 145, 60, 34, 30],
]
C3_PEAKS = [
    [1.45, 3.17, 4.89, 6.61, 8.33],
    [1.55, 3.27, 4.99, 6.71, 8.43],
    [1.58, 3.30, 5.02, 6.74, 8.46],
    [1.63, 3.35, 5.07, 6.79, 8.51],
    [1.68, 3.40, 5.12, 6.84, 8.56],
    [1.72, 3.44, 5.16, 6.88, 8.60],
    [1.74, 3.46, 5.18, 6.90, 8.62],
    [1.76, 3.48, 5.20, 6.92, 8.64],
    [1.78, 3.50, 5.22, 6.94, 8.66],
    [1.82, 3.54, 5.26, 6.98, 8.70],
    [1.84, 3.56, 5.28, 7.00, 8.72],
    [1.86, 3.58, 5.30, 7.02, 8.74],
    [1.88, 3.60, 5.32, 7.04, 8.76],
    [1.90, 3.62, 5.34, 7.06, 8.78],
    [1.95, 3.67, 5.39, 7.11, 8.83],
    [2.05, 3.77, 5.49, 7.21, 8.93],
    [2.20, 3.92, 5.64, 7.36, 9.08],
    [2.60, 4.32, 6.04, 7.76, 9.48],
    [3.00, 4.72, 6.44, 8.16, 9.88],
    [1.80, 3.52, 5.24, 6.96, 8.68],
]
C3_C = [9, 0, 9, 9, 0, 2, 2, 1, 1, 0, 0, 9, 2, 7, 0, 7, 7, 5, 7, 8]

C3_F_T = [0, 0.15, 0.35, 0.6, 0.9, 1.2, 1.5, 1.8, 2.1, 2.5, 3.0, 10]
C3_F_Y = [
    [270, 135, 50, 18, 9, 10, 14, 18, 20.5, 21.5, 22, 22],
    [230, 115, 45, 16, 8, 9, 13, 17, 20, 21.5, 22, 22],
    [25, 22, 20, 22, 26, 32, 42, 50, 44, 32, 24, 22],
    [40, 35, 28, 24, 25, 30, 40, 45, 38, 28, 23, 22],
    [5, 8, 12, 15, 16, 20, 28, 33, 30, 25, 22.5, 22],
    [130, 70, 35, 20, 18, 20, 21.5, 22, 22, 22, 22, 22],
]
C3_F_C = [8, 2, 6, 3, 4, 9]

# ======================= LAYOUT (pixels) =======================
COLS_X = [(209, 434), (511, 738), (813, 1040)]
ROWS_Y = [(10, 169), (220, 380), (436, 596)]
X_RANGE = [-0.45, 10.45]
Y_RANGES = [[0, 40], [0, 45.2], [0, 300]]
Y_TICKVALS = [Y_TICKS_MIR, Y_TICKS_JAG, Y_TICKS_AR]
Y_TICKSIZE = [10.5, 10.5, 9.5]


def px(x):
    return x / W


def py(y):
    return 1 - y / H


def osc_line(tr_t, tr_v, peaks, cdt, cv, t_end=10.0):
    t, v = list(tr_t), list(tr_v)
    i0 = cv.index(min(cv))
    period = cdt[-1]
    for dt, val in zip(cdt[i0:-1], cv[i0:-1]):
        x = peaks[0] - period + dt
        if x > t[-1] + 0.04:
            t.append(x)
            v.append(val)
    for k, p in enumerate(peaks):
        last = (k == len(peaks) - 1)
        for dt, val in zip(cdt, cv):
            x = p + dt
            if not last and x >= peaks[k + 1] - 0.04:
                break
            t.append(x)
            v.append(val)
            if x > t_end:
                return t, v
    return t, v


fig = go.Figure()
LW = 1.35


def add(panel, t, v, color_idx, dash='solid', width=LW):
    suffix = '' if panel == 0 else str(panel + 1)
    fig.add_trace(go.Scatter(
        x=t, y=v, mode='lines', xaxis='x' + suffix, yaxis='y' + suffix,
        line=dict(color=TAB[color_idx % 10], width=width, dash=dash,
                  shape='spline', smoothing=0.8),
        hoverinfo='skip', showlegend=False))


# Panel 0: A1
for ys, c in zip(A1_Y, A1_C):
    add(0, A1_T, ys, c)
# Panel 1: A2
for ys, c in zip(A2_Y, A2_C):
    add(1, A2_T, ys, c)
# Panel 2: A3
for tt, tv, pk, c in zip(A3_TR_T, A3_TR_V, A3_PEAKS, A3_C):
    t, v = osc_line(tt, tv, pk, AR_CYC_DT, AR_CYC_V)
    add(2, t, v, c, width=1.5)
# Panel 3: B1
for ys, c in zip(B1_M_Y, B1_M_C):
    add(3, B1_M_T, ys, c)
for ys, c in zip(B1_EM_Y, B1_EM_C):
    add(3, B1_EM_T, ys, c)
for tt, tv, pk, c in zip(B1_ER_TR_T, B1_ER_TR_V, B1_ER_PEAKS, B1_ER_C):
    t, v = osc_line(tt, tv, pk, ER4_DT, ER4_V)
    add(3, t, v, c)
for ys, c in zip(B1_S_Y, B1_S_C):
    add(3, B1_S_T, ys, c)
# Panel 4: B2
for ys, c, d in zip(B2_C_Y, B2_C_C, B2_C_DASH):
    add(4, B2_C_T, ys, c, dash=d)
for ys, c in zip(B2_B_Y, B2_B_C):
    add(4, B2_B_T, ys, c)
for ys, c in zip(B2_A_Y, B2_A_C):
    add(4, B2_A_T, ys, c)
# Panel 5: B3
for tt, tv, pk, c in zip(B3_TR_T, B3_TR_V, B3_PEAKS, B3_C):
    t, v = osc_line(tt, tv, pk, AR_CYC_DT, AR_CYC_V)
    add(5, t, v, c, width=1.5)
for ys, c in zip(B3_F_Y, B3_F_C):
    add(5, B3_F_T, ys, c)
# Panel 6: C1
for tt, tv, c in zip(C1_M_T, C1_M_V, C1_M_C):
    add(6, tt, tv, c)
for tt, tv, pk, c in zip(C1_ER_TR_T, C1_ER_TR_V, C1_ER_PEAKS, C1_ER_C):
    t, v = osc_line(tt, tv, pk, ER9_DT, ER9_V)
    add(6, t, v, c)
# Panel 7: C2
for tt, tv, c, d in zip(C2_T, C2_V, C2_C, C2_DASH):
    add(7, tt, tv, c, dash=d)
# Panel 8: C3
for tt, tv, pk, c in zip(C3_TR_T, C3_TR_V, C3_PEAKS, C3_C):
    t, v = osc_line(tt, tv, pk, AR_CYC_DT, AR_CYC_V)
    add(8, t, v, c, width=1.5)
for ys, c in zip(C3_F_Y, C3_F_C):
    add(8, C3_F_T, ys, c)

# ---- axes ----
AX_COLOR = '#3a3a3a'
XTICKFONT = dict(family='DejaVu Sans', size=13, color='#262626')
layout_axes = {}
shapes = []
annotations = []
for r in range(3):
    for c in range(3):
        i = r * 3 + c
        suffix = '' if i == 0 else str(i + 1)
        x0, x1 = COLS_X[c]
        y0, y1 = ROWS_Y[r]
        common = dict(showline=True, mirror=True, linecolor=AX_COLOR, linewidth=1,
                      ticks='outside', ticklen=4, tickwidth=1, tickcolor=AX_COLOR,
                      showgrid=False, zeroline=False, fixedrange=True,
                      ticklabeloverflow='allow')
        layout_axes['xaxis' + suffix] = dict(
            common, domain=[px(x0), px(x1)], range=X_RANGE, tickvals=X_TICKS,
            tickfont=XTICKFONT, anchor='y' + suffix)
        layout_axes['yaxis' + suffix] = dict(
            common, domain=[py(y1), py(y0)], range=Y_RANGES[c],
            tickvals=Y_TICKVALS[c], tickangle=-90,
            tickfont=dict(family='DejaVu Sans', size=Y_TICKSIZE[c], color='#262626'),
            ticklabelstandoff=3, anchor='x' + suffix)
        # hide the continuation of curves beyond t = 10
        shapes.append(dict(type='rect', xref='x' + suffix, yref='y' + suffix + ' domain',
                           x0=10.0, x1=10.44, y0=0.003, y1=0.997, fillcolor='white',
                           line=dict(width=0), layer='above'))
        # axis titles
        annotations.append(dict(text=X_TITLE, x=px((x0 + x1) / 2), y=py(y1 + 29),
                                xref='paper', yref='paper', showarrow=False,
                                font=dict(family='DejaVu Sans', size=12.5, color='#262626'),
                                xanchor='center', yanchor='middle'))
        annotations.append(dict(text=Y_TITLES[c], x=px(x0 - 31), y=py((y0 + y1) / 2),
                                xref='paper', yref='paper', showarrow=False, textangle=-90,
                                font=dict(family='DejaVu Sans', size=11.8, color='#262626'),
                                xanchor='center', yanchor='middle'))

# ---- in-plot labels ----
BOLD_LABELS = [
    (DEXT[0], 330, 70), (DEXT[0], 626, 71), (DEXT[0], 943, 70),
    (DEXT[1], 330, 274), (DEXT[1], 634, 278), (DEXT[1], 941, 276),
    (DEXT[2], 330, 481), (DEXT[2], 669, 571), (DEXT[2], 932, 481),
]
for txt, x, y in BOLD_LABELS:
    annotations.append(dict(text='<b>' + txt + '</b>', x=px(x), y=py(y), xref='paper',
                            yref='paper', showarrow=False,
                            font=dict(family='Lato', size=21.5, color='black'),
                            xanchor='center', yanchor='middle'))

STATE_LABELS = [
    ('(E),(S)', 338, 33),
    ('(E),(S)', 387, 243), ('(E),(R)', 366, 296), ('(E/M),(S/R)', 361, 338),
    ('(M),(S/R)', 358, 366),
    ('(E),(R)', 359, 518), ('(M),(S/R)', 393, 562),
]
for txt, x, y in STATE_LABELS:
    annotations.append(dict(text=txt, x=px(x), y=py(y), xref='paper', yref='paper',
                            showarrow=False,
                            font=dict(family='Lato', size=18.5, color='#1a1a1a'),
                            xanchor='center', yanchor='middle'))

for txt, x, y in [('A', 117, 20), ('B', 123, 226), ('C', 122, 428)]:
    annotations.append(dict(text='<b>' + txt + '</b>', x=px(x), y=py(y), xref='paper',
                            yref='paper', showarrow=False,
                            font=dict(family='Lato', size=22, color='black'),
                            xanchor='center', yanchor='middle'))


# ---- Z / AR network diagram ----
def rbox(x0, y0, x1, y1, r):
    return (f"M {px(x0 + r)},{py(y0)} L {px(x1 - r)},{py(y0)} "
            f"Q {px(x1)},{py(y0)} {px(x1)},{py(y0 + r)} L {px(x1)},{py(y1 - r)} "
            f"Q {px(x1)},{py(y1)} {px(x1 - r)},{py(y1)} L {px(x0 + r)},{py(y1)} "
            f"Q {px(x0)},{py(y1)} {px(x0)},{py(y1 - r)} L {px(x0)},{py(y0 + r)} "
            f"Q {px(x0)},{py(y0)} {px(x0 + r)},{py(y0)} Z")


shapes.append(dict(type='path', xref='paper', yref='paper', path=rbox(7, 232, 49, 271, 6),
                   fillcolor='#2f74ef', line=dict(color='#3c6fc4', width=1)))
shapes.append(dict(type='path', xref='paper', yref='paper', path=rbox(7, 333, 56, 373, 6),
                   fillcolor='#ffc000', line=dict(color='#8f8a6a', width=1)))
RED = '#e8111b'
for (xa, ya, xb, yb) in [(18, 278, 18, 327), (11.5, 279, 26, 279),
                         (34.5, 273, 34.5, 322), (27, 322, 43, 322)]:
    shapes.append(dict(type='line', xref='paper', yref='paper', x0=px(xa), y0=py(ya),
                       x1=px(xb), y1=py(yb), line=dict(color=RED, width=4.5)))
annotations.append(dict(text='Z', x=px(28), y=py(252), xref='paper', yref='paper',
                        showarrow=False, font=dict(family='Lato', size=18, color='#17264d'),
                        xanchor='center', yanchor='middle'))
annotations.append(dict(text='AR', x=px(31.5), y=py(353), xref='paper', yref='paper',
                        showarrow=False, font=dict(family='Lato', size=20, color='#222222'),
                        xanchor='center', yanchor='middle'))

fig.update_layout(
    width=W, height=H, margin=dict(l=0, r=0, t=0, b=0),
    template='none', paper_bgcolor='white', plot_bgcolor='white',
    showlegend=False, font=dict(family='DejaVu Sans'),
    shapes=shapes, annotations=annotations, **layout_axes)

fig.write_html('out.html')
